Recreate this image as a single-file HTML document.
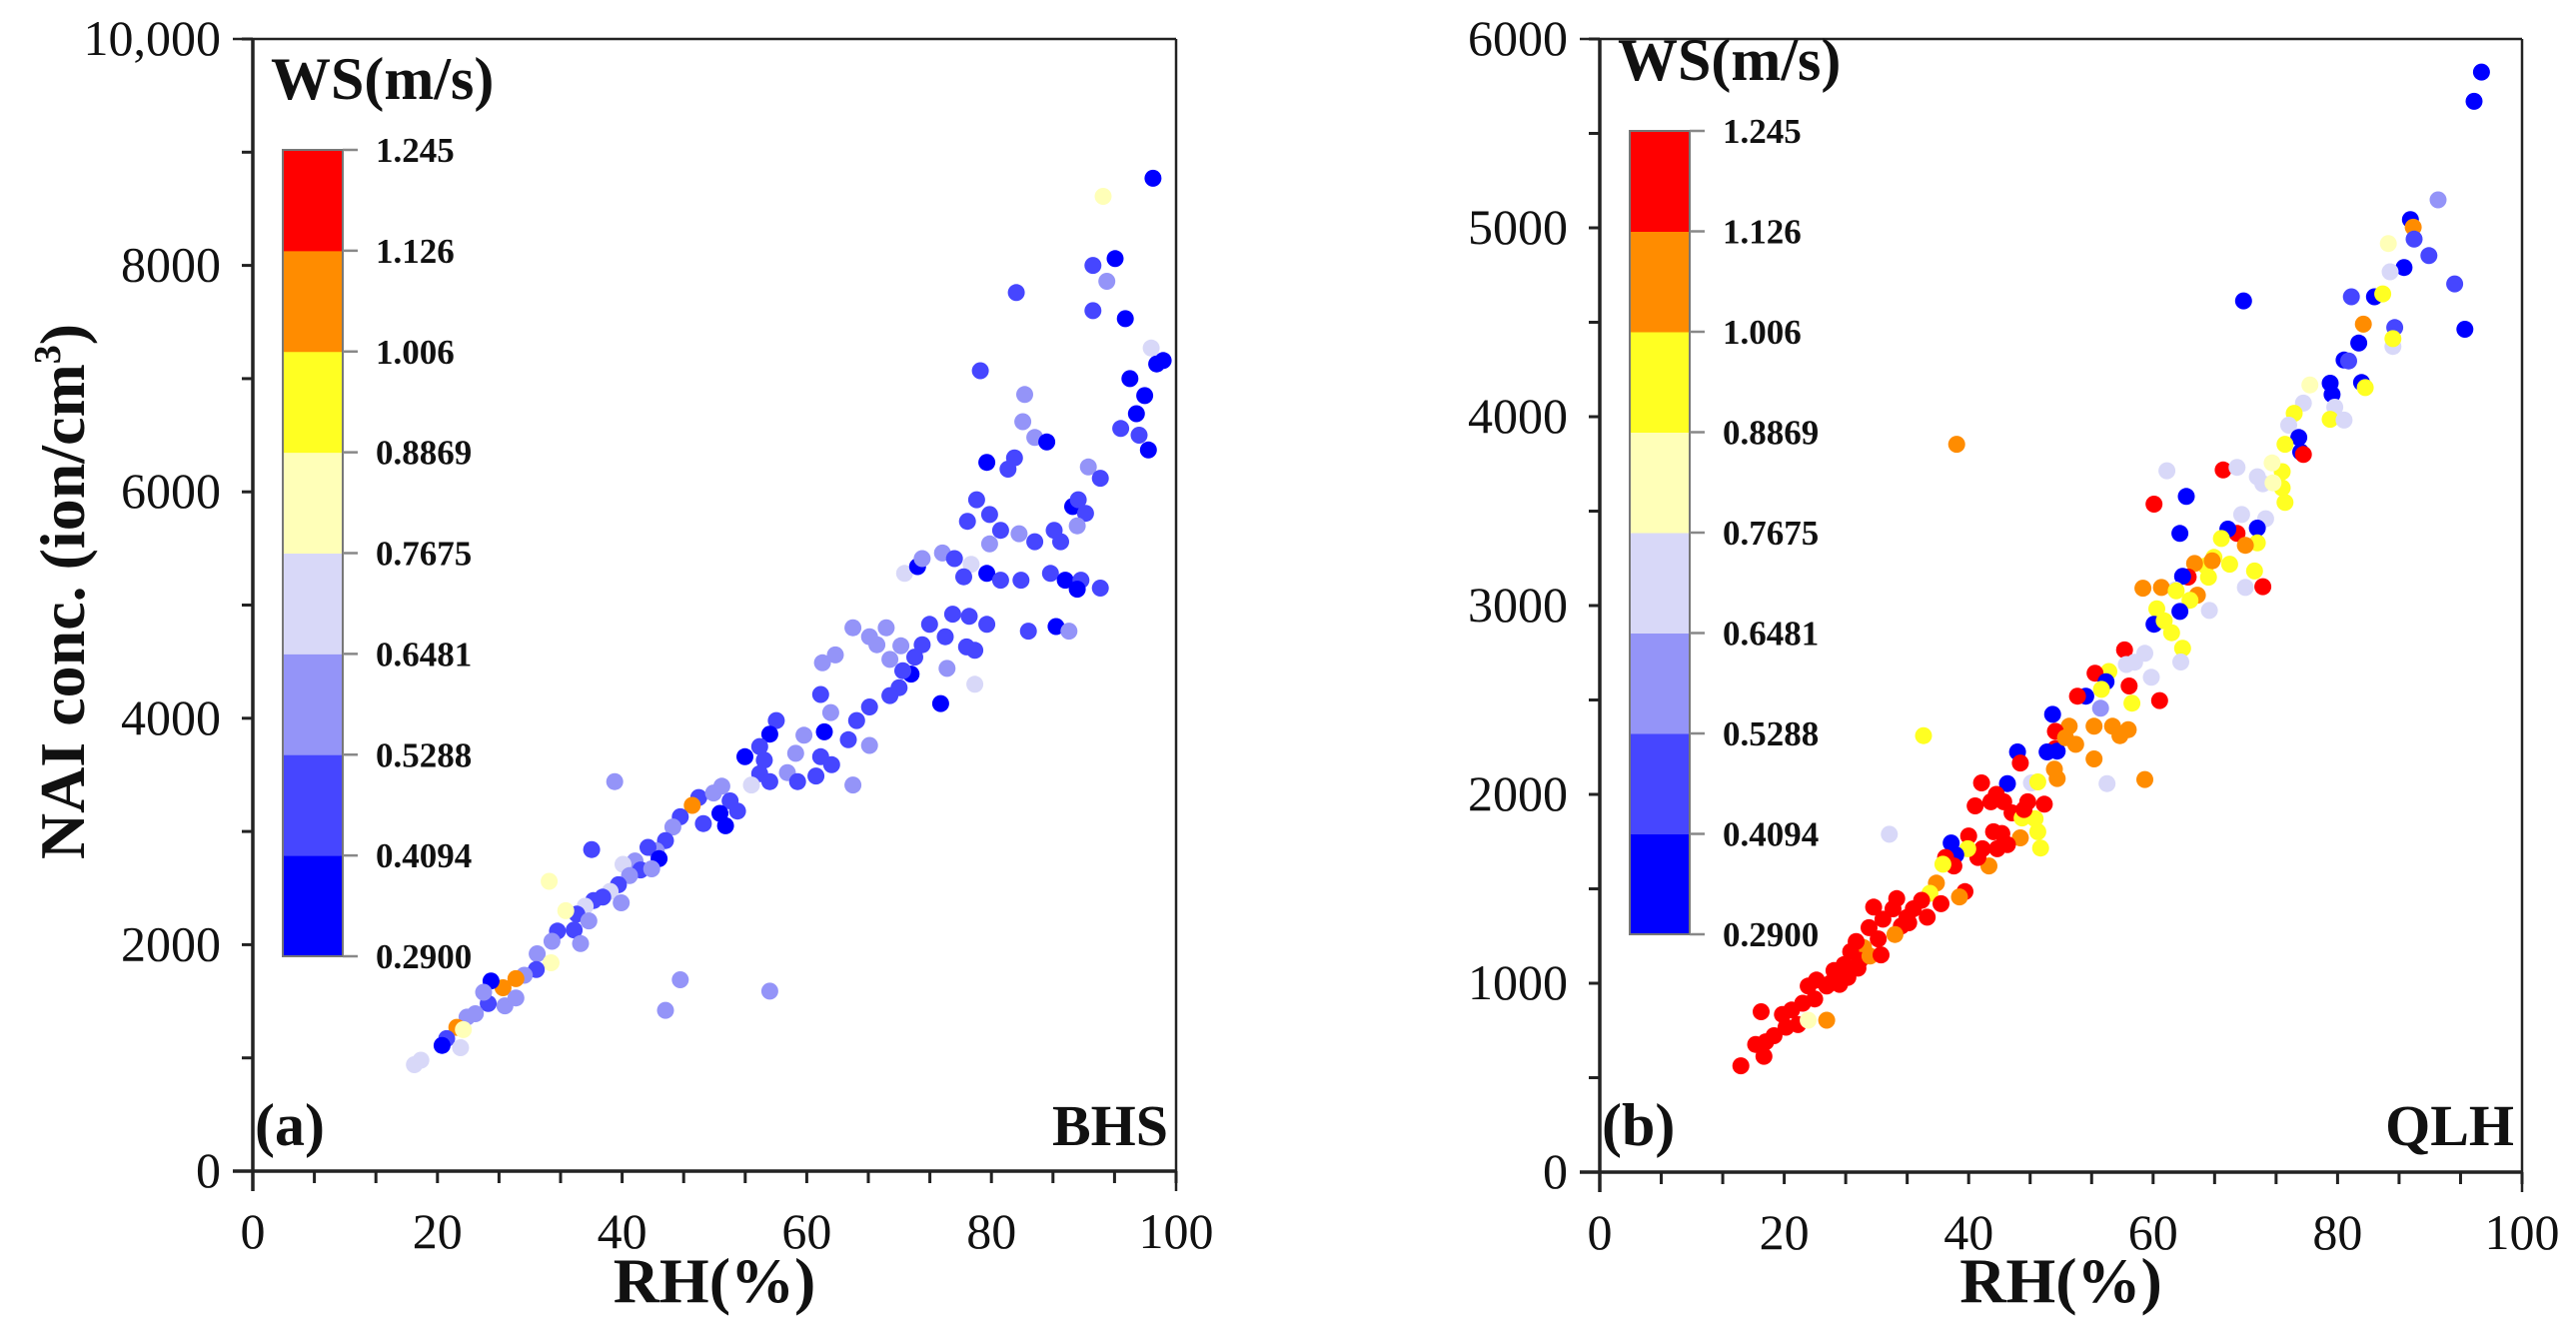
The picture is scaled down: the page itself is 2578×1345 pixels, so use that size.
<!DOCTYPE html>
<html><head><meta charset="utf-8"><style>
html,body{margin:0;padding:0;background:#fff}
svg{display:block}
text{font-family:"Liberation Serif","DejaVu Serif",serif;fill:#111}
</style></head><body>
<svg id="chart" width="2578" height="1345" viewBox="0 0 2578 1345" xmlns="http://www.w3.org/2000/svg" font-family="Liberation Serif, DejaVu Serif, serif">
<rect width="2578" height="1345" fill="#fff"/>
<g id="pa"></g>
<g id="pb"></g>
</svg>
<script>
// ---- data ----
const xTicks = [0,20,40,60,80,100];
const yTicksA = [0,2000,4000,6000,8000,10000];
const yTickLabelsA = ["0","2000","4000","6000","8000","10,000"];
const yTicksB = [0,1000,2000,3000,4000,5000,6000];
const yTickLabelsB = ["0","1000","2000","3000","4000","5000","6000"];
const cbBounds = [0.2900,0.4094,0.5288,0.6481,0.7675,0.8869,1.006,1.126,1.245];
const cbLabels = ["0.2900","0.4094","0.5288","0.6481","0.7675","0.8869","1.006","1.126","1.245"];
const cbColors = ["#0000ff","#4646ff","#9494f8","#d8d8f8","#ffffb8","#ffff22","#ff8c00","#ff0000"];

// BHS: RH, NAI, WS
const rhA = [97.5,92.1,93.4,91,92.5,91,94.5,82.7,78.8,97.3,97.9,98.6,95,96.6,95.7,94,97,96,83.6,84.7,83.4,86,79.5,81.8,82.5,90.5,91.8,78.4,79.8,81,77.4,83,84.7,86.8,87.5,88.8,90.2,89.3,89.4,74.7,76,77.8,79.8,70.6,72,72.5,77,79.5,81,83.2,86.4,88,89.7,91.8,89.3,75.8,77.6,79.5,84,87,88.4,73.3,75,65,66.8,68.6,70.2,77.3,78.2,75.2,67.6,69,72.5,71.7,71.3,70.4,70,69,66.8,74.5,78.2,61.7,63.1,61.5,62.6,65.4,64.5,66.8,56.7,56,54.9,59.7,58.8,57.9,61.9,61.5,62.7,61,59,65,53.3,55.4,54.9,56,54,50.8,48.3,49.9,51.7,52.5,50.6,51.2,48.8,47.6,46.3,45.5,44.7,43.7,42.8,44,41.4,40.1,42,43.2,40.8,39.6,38.7,36.9,37.9,39.9,36,35.1,36.4,32.1,33.9,39.2,36.7,34.8,35.5,33,32.4,30.8,32.3,30.7,29.4,28.5,27.1,27.3,25.8,25.5,24.1,23.2,22.1,22.8,21,20.5,22.5,17.5,18.2,46.3,44.7,56,25,28.5];
const naiA = [8770,8610,8060,8000,7860,7600,7530,7760,7070,7270,7130,7160,7000,6850,6690,6560,6370,6500,6860,6480,6620,6440,6260,6200,6300,6220,6120,5930,5800,5660,5740,5630,5560,5660,5560,5870,5810,5700,5930,5460,5410,5360,5540,5280,5340,5410,5250,5280,5220,5220,5280,5220,5220,5150,5140,4920,4900,4830,4770,4810,4770,4830,4720,4800,4720,4800,4640,4630,4600,4440,4650,4520,4650,4540,4390,4420,4270,4200,4100,4130,4300,4490,4560,4210,4050,3980,3810,3760,3980,3860,3750,3850,3690,3520,3880,3660,3590,3490,3440,3410,3660,3630,3510,3440,3410,3400,3300,3340,3270,3180,3160,3050,3070,3230,3130,3040,2920,2830,2860,2760,2740,2710,2660,2670,2610,2530,2470,2390,2420,2370,2340,2270,2210,2560,2300,3440,2840,2130,2010,2120,2030,1920,1840,1780,1730,1700,1620,1460,1680,1480,1390,1360,1270,1250,1170,1110,1090,940,980,1690,1420,1590,1580,1530];
const wsA = [0.35,0.82,0.35,0.47,0.59,0.47,0.35,0.47,0.47,0.7,0.35,0.35,0.35,0.35,0.35,0.47,0.35,0.47,0.59,0.59,0.59,0.35,0.35,0.47,0.47,0.59,0.47,0.47,0.47,0.47,0.47,0.59,0.47,0.47,0.47,0.35,0.47,0.59,0.47,0.59,0.47,0.7,0.59,0.7,0.35,0.59,0.47,0.35,0.47,0.47,0.47,0.35,0.47,0.47,0.35,0.47,0.47,0.47,0.47,0.35,0.59,0.47,0.47,0.59,0.59,0.59,0.59,0.47,0.47,0.59,0.59,0.59,0.47,0.47,0.35,0.47,0.47,0.47,0.47,0.35,0.7,0.59,0.59,0.47,0.59,0.47,0.47,0.59,0.47,0.35,0.47,0.59,0.59,0.59,0.35,0.47,0.47,0.47,0.47,0.59,0.35,0.47,0.47,0.47,0.7,0.59,0.47,0.59,0.47,0.47,0.35,0.35,0.47,1.07,0.47,0.59,0.47,0.59,0.47,0.35,0.59,0.7,0.47,0.59,0.59,0.47,0.7,0.47,0.47,0.59,0.7,0.47,0.59,0.82,0.82,0.59,0.47,0.47,0.59,0.47,0.59,0.59,0.82,0.47,0.59,1.07,1.07,0.59,0.35,0.47,0.59,0.59,1.07,0.82,0.47,0.35,0.7,0.7,0.7,0.59,0.59,0.59,0.59,0.59];

// QLH points: [RH, NAI, WS]
const pointsB = [
[95.6,5825,0.35],[94.8,5670,0.35],[90.9,5148,0.59],[87.9,5044,0.35],[88.2,5003,1.07],[88.3,4940,0.47],
[87.2,4790,0.35],[89.9,4853,0.47],[92.7,4703,0.47],[93.8,4463,0.35],[85.5,4917,0.82],[85.7,4767,0.7],
[84,4635,0.35],[81.5,4635,0.47],[82.8,4490,1.07],[84.9,4650,0.95],[86.2,4472,0.47],[86,4372,0.7],[86,4413,0.95],
[82.3,4390,0.35],[80.7,4300,0.35],[81.2,4295,0.47],[79.2,4177,0.35],[82.6,4181,0.35],[83,4154,0.95],
[79.4,4118,0.35],[79.7,4050,0.7],[79.2,3986,0.95],[80.7,3982,0.7],[77,4168,0.82],[76.3,4072,0.7],
[75.3,4018,0.95],[74.7,3955,0.7],[75.8,3890,0.35],[76,3814,0.35],[76.3,3800,1.19],[74.3,3854,0.95],
[74,3709,0.95],[74,3623,0.95],[74.3,3546,0.95],[71.9,3645,0.7],[71.3,3682,0.7],[72.9,3755,0.82],
[72.2,3460,0.7],[69.6,3482,0.7],[71.3,3410,0.35],[71.3,3332,0.95],[69.1,3382,1.19],[68.1,3405,0.35],
[67.4,3355,0.95],[67.6,3718,1.19],[69.1,3732,0.7],[66.6,3255,0.95],[65.7,3210,0.95],[64.5,3223,1.07],
[66.4,3237,1.07],[70,3319,1.07],[68.3,3219,0.95],[71,3183,0.95],[70,3096,0.7],[71.9,3100,1.19],
[63.6,3578,0.35],[62.9,3382,0.35],[60.1,3537,1.19],[61.5,3714,0.7],[63.8,3151,1.19],[63.2,3155,0.35],
[62.4,3083,0.7],[64.8,3055,1.07],[64,3028,0.95],[58.9,3092,1.07],[60.9,3096,1.07],[62.5,3078,0.95],
[62.9,2969,0.35],[60.4,2983,0.95],[66.1,2974,0.7],[60.1,2901,0.35],[61.2,2919,0.95],[62,2856,0.95],
[63.2,2774,0.95],[63,2701,0.7],[59.1,2747,0.7],[56.9,2765,1.19],[57.1,2688,0.7],[55.2,2651,0.95],
[57.4,2574,1.19],[57.7,2483,0.95],[60.7,2497,1.19],[59.8,2620,0.7],[53.7,2642,1.19],[54.9,2597,0.35],
[54.4,2556,0.95],[52.7,2520,0.35],[51.8,2520,1.19],[54.3,2456,0.59],[53.6,2361,1.07],[55.6,2361,1.07],
[57.3,2343,1.07],[56.4,2311,1.07],[50.9,2361,1.07],[49.1,2424,0.35],[49.4,2334,1.19],[51.6,2265,1.07],
[49.4,2243,1.19],[45.3,2225,0.35],[48.5,2225,0.35],[49.6,2229,0.35],[45.6,2166,1.19],[53.6,2188,1.07],
[49.3,2134,1.07],[49.6,2084,1.07],[55,2057,0.7],[59.1,2079,1.07],[35.1,2311,0.95],[44.2,2057,0.35],
[41.4,2061,1.19],[46.8,2061,0.7],[47.5,2066,0.95],[40.7,1939,1.19],[42.4,1961,1.19],[43.8,1961,1.19],
[46.4,1961,1.19],[48.2,1948,1.19],[44.7,1902,1.19],[45.8,1875,0.95],[47.2,1871,0.95],[47.5,1802,0.95],
[47.8,1716,0.95],[45.6,1770,1.07],[44.2,1734,1.19],[43.1,1712,1.19],[41.5,1712,1.19],[42.7,1802,1.19],
[43.6,1793,1.19],[40,1780,1.19],[42.2,1621,1.07],[41,1666,1.19],[39.9,1712,0.95],[38.1,1743,0.35],
[38.6,1680,0.35],[37.5,1666,1.19],[38.4,1621,1.19],[37.2,1630,0.95],[31.4,1789,0.7],[39.6,1485,1.19],
[39,1457,1.07],[36.5,1530,1.07],[35.8,1476,0.95],[37,1421,1.19],[34.9,1439,1.19],[34,1394,1.19],
[32.2,1448,1.19],[31.8,1394,1.19],[33.3,1348,1.19],[32.7,1303,1.19],[32,1258,1.07],[29.7,1403,1.19],
[30.7,1339,1.19],[29.2,1294,1.19],[30.2,1235,1.19],[28.6,1189,1.07],[27.8,1221,1.19],[27.2,1167,1.19],
[28.2,1121,1.19],[26.5,1099,1.19],[25.4,1067,1.19],[26.9,1031,1.19],[26,994,1.19],[24.6,985,1.19],
[23.5,1017,1.19],[22.6,985,1.19],[23.3,917,1.19],[22,894,1.19],[20.8,858,1.19],[19.8,835,1.19],
[21.5,781,1.19],[20.2,767,1.19],[18.9,722,1.19],[17.5,849,1.19],[18,690,1.19],[16.9,676,1.19],
[17.8,613,1.19],[15.3,563,1.19],[22.6,804,0.82],[24.6,804,1.07],[29.3,1144,1.07],[38.7,3854,1.07],
[69.8,4613,0.35],[33.5,1320,1.19],[35.5,1350,1.19],[30.5,1150,1.19],[25,1000,1.19],[28,1080,1.19],
[43,2000,1.19],[46,1920,1.19],[50.5,2300,1.07],[58,2700,0.7],[66,3150,0.95],[73,3650,0.82]
];
const rhB = pointsB.map(p=>p[0]);
const naiB = pointsB.map(p=>p[1]);
const wsB = pointsB.map(p=>p[2]);

const NS = "http://www.w3.org/2000/svg";
function mk(parent, tag, attrs, txt){
  const e = document.createElementNS(NS, tag);
  for (const k in attrs) e.setAttribute(k, attrs[k]);
  if (txt !== undefined) e.textContent = txt;
  parent.appendChild(e);
  return e;
}
function wsColor(v){
  for (let i=0;i<8;i++){ if (v < cbBounds[i+1]) return cbColors[i]; }
  return cbColors[7];
}

function panel(g, cfg){
  const {x0,x1,y0,y1,ymax,yTicks,yLabels,yMinor,rh,nai,ws,letter,site,cbX,cbTop,cbBot,showYTitle} = cfg;
  const sx = v => x0 + (v/100)*(x1-x0);
  const sy = v => y0 - (v/ymax)*(y0-y1);
  const pts = mk(g,'g',{});
  
  
  for (let i=0;i<rh.length;i++){
    const c = mk(pts,'circle',{cx:sx(rh[i]).toFixed(1),cy:sy(nai[i]).toFixed(1),r:8.5,fill:wsColor(ws[i])});
    
    
  }
  const fr = mk(g,'g',{stroke:'#222',fill:'none'});
  
  
  mk(fr,'line',{x1:x0-20,y1:y0,x2:x1,y2:y0,'stroke-width':3.5});
  mk(fr,'line',{x1:x0,y1:y1,x2:x0,y2:y0+20,'stroke-width':3.5});
  mk(fr,'line',{x1:x0-20,y1:y1,x2:x1,y2:y1,'stroke-width':2.5});
  mk(fr,'line',{x1:x1,y1:y1,x2:x1,y2:y0+20,'stroke-width':2.5});
  const xt = mk(g,'g',{});
  
  
  for (let v=0; v<=100.01; v+=20/3){
    const px = sx(v);
    mk(xt,'line',{x1:px,y1:y0,x2:px,y2:y0+12,stroke:'#222','stroke-width':3});
  }
  xTicks.forEach(v=>{
    const t = mk(xt,'text',{x:sx(v),y:y0+77,'text-anchor':'middle','font-size':50},String(v));
    
    
  });
  const yt = mk(g,'g',{});
  
  
  for (let v=0; v<=ymax; v+=yMinor){
    mk(yt,'line',{x1:x0-11,y1:sy(v),x2:x0,y2:sy(v),stroke:'#222','stroke-width':3});
  }
  yTicks.forEach((v,i)=>{
    const t = mk(yt,'text',{x:x0-32,y:sy(v)+16,'text-anchor':'end','font-size':50},yLabels[i]);
    
    
  });
  const xtT = mk(g,'text',{x:(x0+x1)/2,y:1303,'text-anchor':'middle','font-size':64,'font-weight':'bold'},'RH(%)');
  
  
  if (showYTitle){
    const ytT = mk(g,'text',{x:0,y:0,'text-anchor':'middle','font-size':64,'font-weight':'bold',transform:'translate(84,592) rotate(-90)'});
    
    
    ytT.appendChild(document.createTextNode('NAI conc. (ion/cm'));
    mk(ytT,'tspan',{'font-size':38,dy:-24},'3');
    mk(ytT,'tspan',{dy:24},')');
  }
  const lt = mk(g,'text',{x:x0+2,y:1146,'font-size':60,'font-weight':'bold'},letter);
  
  
  const st = mk(g,'text',{x:x1-8,y:1146,'text-anchor':'end','font-size':58,'font-weight':'bold'},site);
  
  
  const cb = mk(g,'g',{});
  
  
  const ct = mk(cb,'text',{x:cbX-12,y:cbTop-51,'font-size':60,'font-weight':'bold'},'WS(m/s)');
  
  
  const bh = (cbBot-cbTop)/8;
  for (let i=0;i<8;i++){
    const r = mk(cb,'rect',{x:cbX,y:cbBot-(i+1)*bh,width:60,height:bh+0.5,fill:cbColors[i]});
    
    
  }
  mk(cb,'rect',{x:cbX,y:cbTop,width:60,height:cbBot-cbTop,fill:'none',stroke:'#777','stroke-width':2});
  for (let i=0;i<9;i++){
    const yy = cbBot-i*bh;
    mk(cb,'line',{x1:cbX+60,y1:yy,x2:cbX+75,y2:yy,stroke:'#888','stroke-width':2.5});
    const t = mk(cb,'text',{x:cbX+93,y:yy+12,'font-size':35,'font-weight':'bold'},cbLabels[i]);
    
    
  }
}

panel(document.getElementById('pa'),{x0:253,x1:1177,y0:1172,y1:39,ymax:10000,yTicks:yTicksA,yLabels:yTickLabelsA,yMinor:1000,
  rh:rhA,nai:naiA,ws:wsA,letter:'(a)',site:'BHS',cbX:283,cbTop:150,cbBot:957,showYTitle:true});
panel(document.getElementById('pb'),{x0:1601,x1:2524,y0:1173,y1:39,ymax:6000,yTicks:yTicksB,yLabels:yTickLabelsB,yMinor:500,
  rh:rhB,nai:naiB,ws:wsB,letter:'(b)',site:'QLH',cbX:1631,cbTop:131,cbBot:935,showYTitle:false});
</script>
</body></html>
